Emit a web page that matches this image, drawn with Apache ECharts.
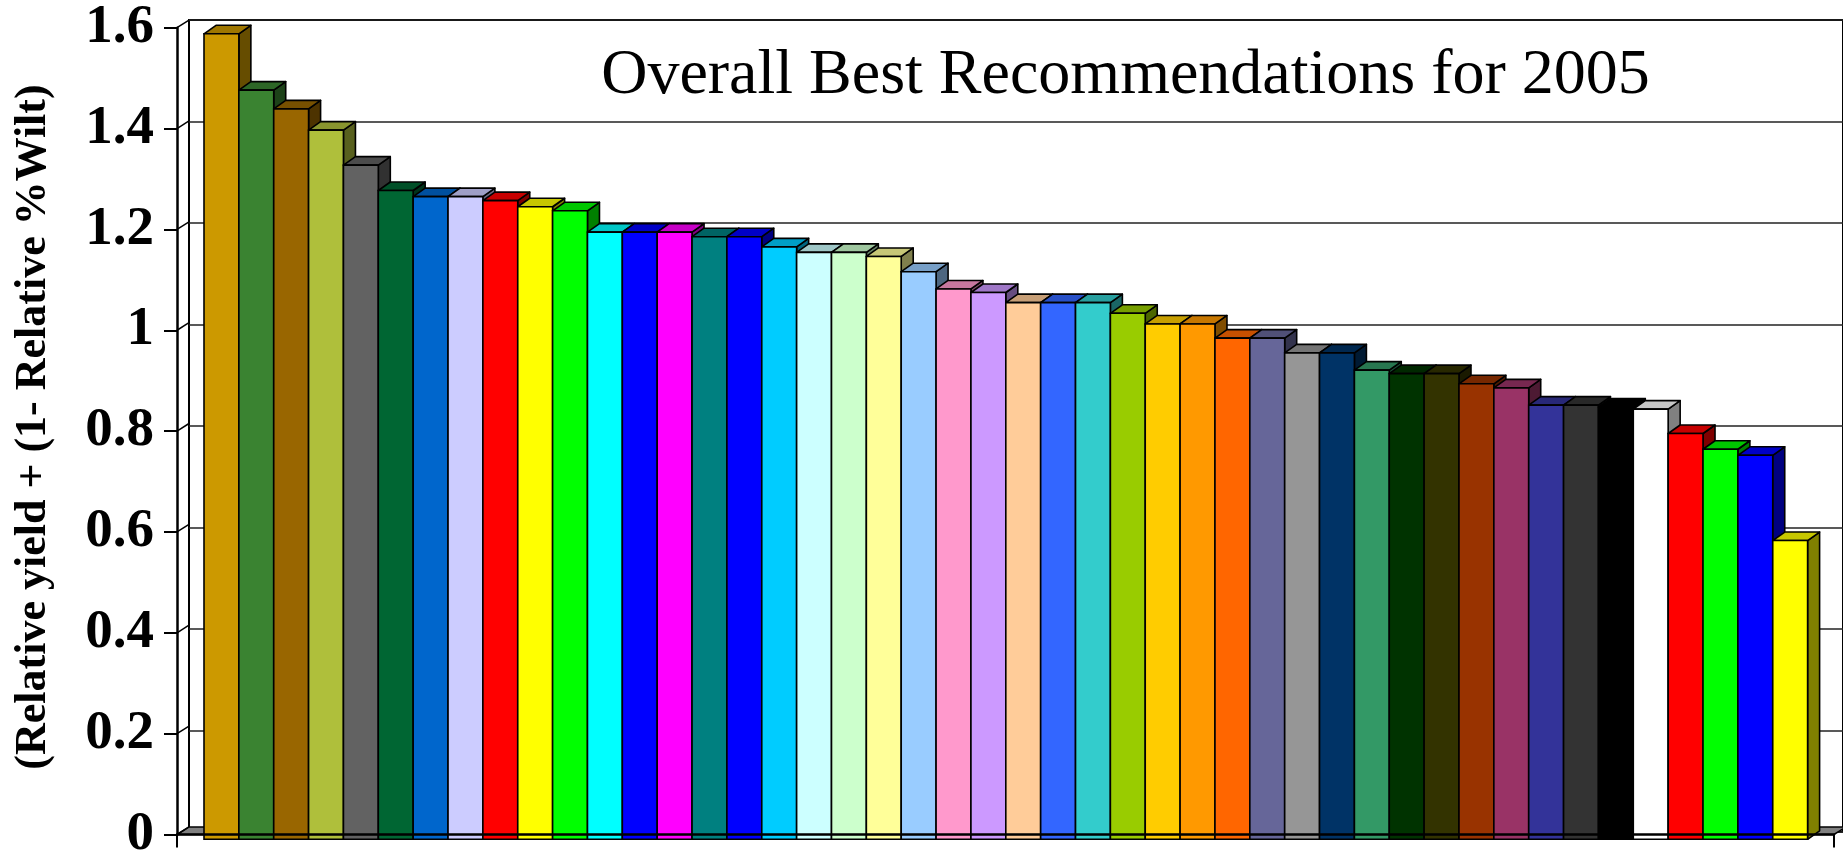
<!DOCTYPE html>
<html><head><meta charset="utf-8">
<script src="https://cdn.jsdelivr.net/npm/echarts@6/dist/echarts.min.js"></script>
<style>html,body{margin:0;padding:0;background:#fff}#c{width:1843px;height:862px}</style>
</head><body><div id="c"></div>
<script>
const categories = ['1','2','3','4','5','6','7','8','9','10','11','12','13','14','15','16','17','18','19','20','21','22','23','24','25','26','27','28','29','30','31','32','33','34','35','36','37','38','39','40','41','42','43','44','45','46'];
const values = [1.588,1.477,1.440,1.398,1.329,1.279,1.267,1.267,1.259,1.247,1.239,1.197,1.197,1.197,1.188,1.188,1.168,1.157,1.157,1.149,1.119,1.085,1.078,1.058,1.058,1.058,1.037,1.016,1.016,0.988,0.988,0.959,0.959,0.925,0.918,0.918,0.898,0.890,0.856,0.856,0.852,0.848,0.800,0.769,0.757,0.589];
const barColors = ['#CC9900','#3A8331','#996600','#AFBF3B','#626262','#006633','#0066CC','#CCCCFF','#FF0000','#FFFF00','#00FF00','#00FFFF','#0000FF','#FF00FF','#008080','#0000FF','#00CCFF','#CCFFFF','#CCFFCC','#FFFF99','#99CCFF','#FF99CC','#CC99FF','#FFCC99','#3366FF','#33CCCC','#99CC00','#FFCC00','#FF9900','#FF6600','#666699','#969696','#003366','#339966','#003300','#333300','#993300','#993366','#333399','#333333','#000000','#FFFFFF','#FF0000','#00FF00','#0000FF','#FFFF00'];
const yTicks = [0,0.2,0.4,0.6,0.8,1,1.2,1.4,1.6];
const titleText = 'Overall Best Recommendations for 2005';
const yAxisTitle = '(Relative yield + (1- Relative %Wilt)';

const SERIF = '"Liberation Serif","Times New Roman",serif';
const BAR_DX = 12, BAR_DY = 8.5;
const WALL_DX = 12, WALL_DY = 7.6;

function shade(hex, f) {
  const n = parseInt(hex.slice(1), 16);
  const r = Math.round(((n >> 16) & 255) * f), g = Math.round(((n >> 8) & 255) * f), b = Math.round((n & 255) * f);
  return 'rgb(' + r + ',' + g + ',' + b + ')';
}

const chart = echarts.init(document.getElementById('c'), null, {renderer: 'canvas'});
const option = {
  backgroundColor: '#fff',
  animation: false,
  grid: [
    {left: 177, right: 9, top: 27.7, bottom: 22.7},
    {left: 204, right: 35.4, top: 27.7, bottom: 22.7},
    {left: 189, right: -6, top: 20.1, bottom: 30.3, show: true, borderColor: '#000', borderWidth: 2, backgroundColor: '#fff', z: -1}
  ],
  xAxis: [
    {gridIndex: 0, type: 'value', min: 0, max: 1, interval: 1,
     axisLine: {show: true, lineStyle: {color: '#000', width: 2.5}},
     axisTick: {show: true, length: 13, lineStyle: {color: '#000', width: 2}},
     axisLabel: {show: false}, splitLine: {show: false}, z: 5},
    {gridIndex: 1, type: 'category', data: categories, boundaryGap: true, show: false},
    {gridIndex: 2, type: 'value', min: 0, max: 1, show: false}
  ],
  yAxis: [
    {gridIndex: 0, type: 'value', min: 0, max: 1.6, interval: 0.2,
     axisLine: {show: true, lineStyle: {color: '#000', width: 2.5}},
     axisTick: {show: true, length: 13, lineStyle: {color: '#000', width: 2}},
     axisLabel: {show: true, margin: 23, color: '#000', fontFamily: SERIF, fontWeight: 'bold', fontSize: 55},
     splitLine: {show: false}, z: 5},
    {gridIndex: 1, type: 'value', min: 0, max: 1.6, show: false},
    {gridIndex: 2, type: 'value', min: 0, max: 1.6, interval: 0.2,
     axisLine: {show: false}, axisTick: {show: false}, axisLabel: {show: false},
     splitLine: {show: true, lineStyle: {color: '#222', width: 1.5}}}
  ],
  graphic: [
    {type: 'text', x: 1125.5, y: 76.5, z: 10,
     style: {text: titleText, font: '64px ' + SERIF, fill: '#000', align: 'center', verticalAlign: 'middle'}},
    {type: 'text', x: 34, y: 427, rotation: Math.PI / 2, z: 10,
     style: {text: yAxisTitle, font: 'bold 44px ' + SERIF, fill: '#000', align: 'center', verticalAlign: 'middle'}}
  ],
  series: [
    {
      type: 'custom', xAxisIndex: 0, yAxisIndex: 0, z: 1,
      data: [[0, 1]],
      renderItem: function (params, api) {
        const a = api.coord([0, 0]), b = api.coord([1, 0]);
        return {type: 'polygon', shape: {points: [a, b, [b[0] + WALL_DX, b[1] - WALL_DY], [a[0] + WALL_DX, a[1] - WALL_DY]]},
                style: {fill: '#808080', stroke: '#000', lineWidth: 1.5}};
      }
    },
    {
      type: 'custom', xAxisIndex: 0, yAxisIndex: 0, z: 1,
      data: yTicks.map(function (v) { return [0, v]; }),
      renderItem: function (params, api) {
        const p = api.coord([0, api.value(1)]);
        return {type: 'line', shape: {x1: p[0], y1: p[1], x2: p[0] + WALL_DX, y2: p[1] - WALL_DY},
                style: {stroke: '#000', lineWidth: 1.5}};
      }
    },
    {
      type: 'custom', xAxisIndex: 1, yAxisIndex: 1, z: 3,
      data: values.map(function (v, i) { return [i, v]; }),
      encode: {x: 0, y: 1},
      renderItem: function (params, api) {
        const i = params.dataIndex;
        const top = api.coord([api.value(0), api.value(1)]);
        const bot = api.coord([api.value(0), 0]);
        const w = api.size([1, 0])[0];
        const x0 = top[0] - w / 2, x1 = top[0] + w / 2;
        const yT = top[1], yB = bot[1];
        const c = barColors[i];
        return {type: 'group', children: [
          {type: 'polygon', shape: {points: [[x1, yB], [x1 + BAR_DX, yB - BAR_DY], [x1 + BAR_DX, yT - BAR_DY], [x1, yT]]},
           style: {fill: shade(c, 0.5), stroke: '#000', lineWidth: 1.6, lineJoin: 'round'}},
          {type: 'polygon', shape: {points: [[x0, yT], [x1, yT], [x1 + BAR_DX, yT - BAR_DY], [x0 + BAR_DX, yT - BAR_DY]]},
           style: {fill: shade(c, 0.78), stroke: '#000', lineWidth: 1.6, lineJoin: 'round'}},
          {type: 'rect', shape: {x: x0, y: yT, width: w, height: yB - yT},
           style: {fill: c, stroke: '#000', lineWidth: 1.6}}
        ]};
      }
    }
  ]
};
chart.setOption(option);
</script></body></html>
